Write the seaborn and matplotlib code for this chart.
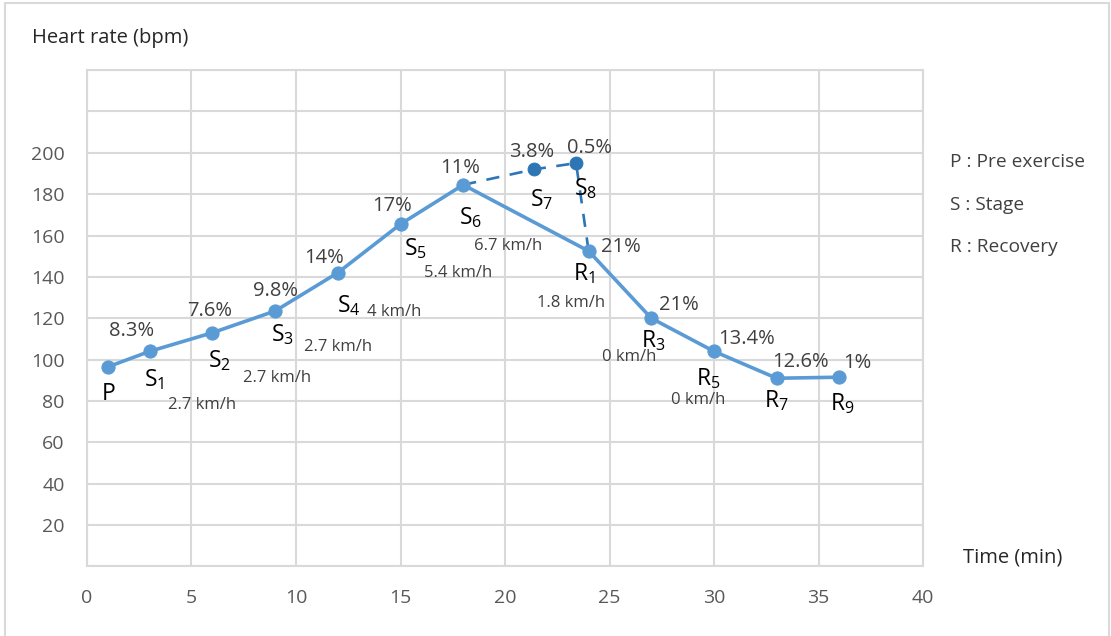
import pandas as pd
import matplotlib.pyplot as plt
import seaborn as sns
from matplotlib.patches import Rectangle

# Data
names = ['P', 'S$_1$', 'S$_2$', 'S$_3$', 'S$_4$', 'S$_5$', 'S$_6$',
         'R$_1$', 'R$_3$', 'R$_5$', 'R$_7$', 'R$_9$']
time_min = [1, 3, 6, 9, 12, 15, 18, 24, 27, 30, 33, 36]
heart_rate = [96.5, 104, 113, 123.5, 142, 165.5, 184.5, 152.5, 120, 104, 91, 91.5]
pct_labels = ['', '8.3%', '7.6%', '9.8%', '14%', '17%', '11%',
              '21%', '21%', '13.4%', '12.6%', '1%']
speed_labels = ['', '2.7 km/h', '2.7 km/h', '2.7 km/h', '4 km/h', '5.4 km/h',
                '6.7 km/h', '1.8 km/h', '0 km/h', '0 km/h', '', '']

# extra stages S7, S8 (dashed branch from S6 to R1)
extra_names = ['S$_7$', 'S$_8$']
extra_time = [21.4, 23.4]
extra_hr = [192, 195]
extra_pct = ['3.8%', '0.5%']

# label offsets in pixels (dx, dy) relative to each point
pct_off = [(0, 0), (-18, 20), (-3, 22), (0, 20), (-14, 15), (-8, 18), (-3, 17),
           (32, 4), (28, 13), (33, 12), (24, 16), (18, 14)]
name_off = [(1, -27), (5, -28), (7, -28), (7, -24), (11, -33), (15, -25), (7, -33),
            (-5, -23), (2, -22), (-6, -27), (0, -22), (3, -26)]
speed_off = [(0, 0), (52, -54), (65, -45), (63, -36), (56, -39), (58, -49), (45, -61),
             (-18, -52), (-22, -39), (-16, -49), (0, 0), (0, 0)]
extra_pct_off = [(-3, 17), (13, 15)]
extra_name_off = [(7, -30), (9, -26)]

main = pd.DataFrame({'Time': time_min, 'HR': heart_rate})
branch = pd.DataFrame({'Time': [time_min[6]] + extra_time + [time_min[7]],
                       'HR': [heart_rate[6]] + extra_hr + [heart_rate[7]]})

sns.set_style('white')
plt.rcParams['font.family'] = ['Open Sans', 'DejaVu Sans']
plt.rcParams['mathtext.default'] = 'regular'

fig = plt.figure(figsize=(11.11, 6.36), dpi=100)
ax = fig.add_axes([0.0783, 0.1093, 0.7525, 0.7806])

grid_c = '#d9d9d9'
light = '#5b9bd5'
dark = '#2e75b6'

sns.lineplot(data=branch, x='Time', y='HR', ax=ax, color=dark, lw=1.9,
             sort=False, dashes=False, zorder=2)
ax.lines[-1].set_dashes([5, 4])
sns.scatterplot(x=extra_time, y=extra_hr, ax=ax, color=dark, s=85,
                edgecolor=dark, zorder=3)
sns.lineplot(data=main, x='Time', y='HR', ax=ax, color=light, lw=2.6,
             marker='o', markersize=9.5, markeredgecolor=light, zorder=4)

txt = '#404040'
pct_fs, name_fs, speed_fs = 14.5, 16.5, 12
for i in range(len(time_min)):
    x, y = time_min[i], heart_rate[i]
    if pct_labels[i]:
        ax.annotate(pct_labels[i], (x, y), xytext=pct_off[i], textcoords='offset pixels',
                    ha='center', va='center', fontsize=pct_fs, color=txt)
    ax.annotate(names[i], (x, y), xytext=name_off[i], textcoords='offset pixels',
                ha='center', va='center', fontsize=name_fs, color='black')
    if speed_labels[i]:
        ax.annotate(speed_labels[i], (x, y), xytext=speed_off[i], textcoords='offset pixels',
                    ha='center', va='center', fontsize=speed_fs, color=txt)
for i in range(len(extra_time)):
    x, y = extra_time[i], extra_hr[i]
    ax.annotate(extra_pct[i], (x, y), xytext=extra_pct_off[i], textcoords='offset pixels',
                ha='center', va='center', fontsize=pct_fs, color=txt)
    ax.annotate(extra_names[i], (x, y), xytext=extra_name_off[i], textcoords='offset pixels',
                ha='center', va='center', fontsize=name_fs, color='black')

ax.set_xlim(0, 40)
ax.set_ylim(0, 240)
ax.set_xticks(range(0, 41, 5))
yt = list(range(0, 241, 20))
ax.set_yticks(yt)
ax.set_yticklabels([str(v) if 20 <= v <= 200 else '' for v in yt])
ax.tick_params(axis='both', length=0, labelsize=14, labelcolor='#595959')
ax.tick_params(axis='x', pad=16)
ax.tick_params(axis='y', pad=16)
ax.grid(True, color=grid_c, lw=1.5)
ax.set_axisbelow(True)
for s in ax.spines.values():
    s.set_color(grid_c)
    s.set_linewidth(1.5)
ax.set_xlabel('')
ax.set_ylabel('')

fig.text(32 / 1111, 1 - 38 / 636, 'Heart rate (bpm)', fontsize=14.5, ha='left', va='center')
fig.text(1013 / 1111, 1 - 558 / 636, 'Time (min)', fontsize=14.5, ha='center', va='center')

for j, t in enumerate(['P : Pre exercise', 'S : Stage', 'R : Recovery']):
    fig.text(950 / 1111, 1 - (162 + j * 42.5) / 636, t, fontsize=13.8, color='#404040',
             ha='left', va='center')

fig.patches.append(Rectangle((5 / 1111, -0.01), 1104 / 1111, 1.01 - 3 / 636,
                             transform=fig.transFigure, fill=False,
                             edgecolor=grid_c, lw=1.5))

fig.savefig('out.png', dpi=100)
plt.close()
